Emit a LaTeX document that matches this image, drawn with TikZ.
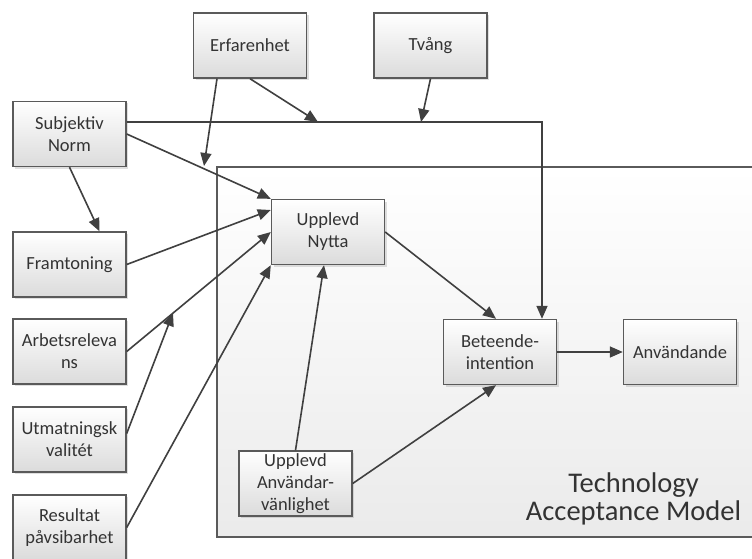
\documentclass[tikz,border=0pt]{standalone}
\usepackage{fontspec}
\setmainfont{Carlito}
\usetikzlibrary{arrows.meta,shadows,calc}
\definecolor{linec}{HTML}{404040}
\definecolor{boxc}{HTML}{5A5A5A}
\definecolor{txtc}{HTML}{333333}
\tikzset{
  box/.style={draw=boxc, line width=1.4pt, top color=white, bottom color=black!14,
    minimum width=113pt, minimum height=65pt, inner sep=1pt, align=center,
    text=txtc, font=\fontsize{18.5}{22}\selectfont,
    drop shadow={opacity=0.25, shadow xshift=2pt, shadow yshift=-2pt}},
  conn/.style={draw=linec, line width=1.6pt, -{Triangle[length=13pt,width=11pt]}},
}
\begin{document}
\begin{tikzpicture}[x=1pt,y=-1pt]
\clip (0,0) rectangle (752,559);
\fill[white] (0,0) rectangle (752,559);
% TAM frame
\draw[draw=boxc, line width=1.4pt, top color=white, bottom color=black!8] (217,167) rectangle (780,537);
\node[text=txtc, font=\fontsize{28.5}{28}\selectfont, align=center] (tam) at (633.5,499) {Technology\\Acceptance Model};
% nodes
\node[box] (erf) at (250,45.5) {Erfarenhet};
\node[box] (tv) at (430.5,45.5) {Tvång};
\node[box] (sn) at (69.5,134) {Subjektiv\\Norm};
\node[box] (fr) at (69.5,264.5) {Framtoning};
\node[box] (ar) at (69.5,351.5) {Arbetsreleva\\ns};
\node[box] (ut) at (69.5,439.5) {Utmatningsk\\valitét};
\node[box] (re) at (69.5,527.5) {Resultat\\påvsibarhet};
\node[box] (ny) at (328,232) {Upplevd\\Nytta};
\node[box] (ua) at (295.5,483.5) {Upplevd\\Användar-\\vänlighet};
\node[box] (bi) at (500,352) {Beteende-\\intention};
\node[box] (an) at (680,352) {Användande};
% moderation points
\coordinate (m1) at (318,122);
\coordinate (m2) at (204,166);
\coordinate (m3) at (421,122);
\coordinate (m4) at (173,313);
% connectors
\draw[conn] (sn.south) -- ([xshift=30]fr.north);
\draw[conn] (sn.east) -- (ny.north west);
\draw[conn] ([yshift=12]sn.east) -| ([xshift=42]bi.north);
\draw[conn] (erf.south) -- (m1);
\draw[conn] ([xshift=-33]erf.south) -- (m2);
\draw[conn] (tv.south) -- (m3);
\draw[conn] (fr.east) -- ([yshift=22]ny.west);
\draw[conn] (ar.east) -- (ny.west);
\draw[conn] ([yshift=6]ut.east) -- (m4);
\draw[conn] (re.east) -- (ny.south west);
\draw[conn] (ua.north) -- ([xshift=-4]ny.south);
\draw[conn] (ua.east) -- ([xshift=-4]bi.south);
\draw[conn] (ny.east) -- ([xshift=-4]bi.north);
\draw[conn] (bi.east) -- (an.west);
\end{tikzpicture}
\end{document}
